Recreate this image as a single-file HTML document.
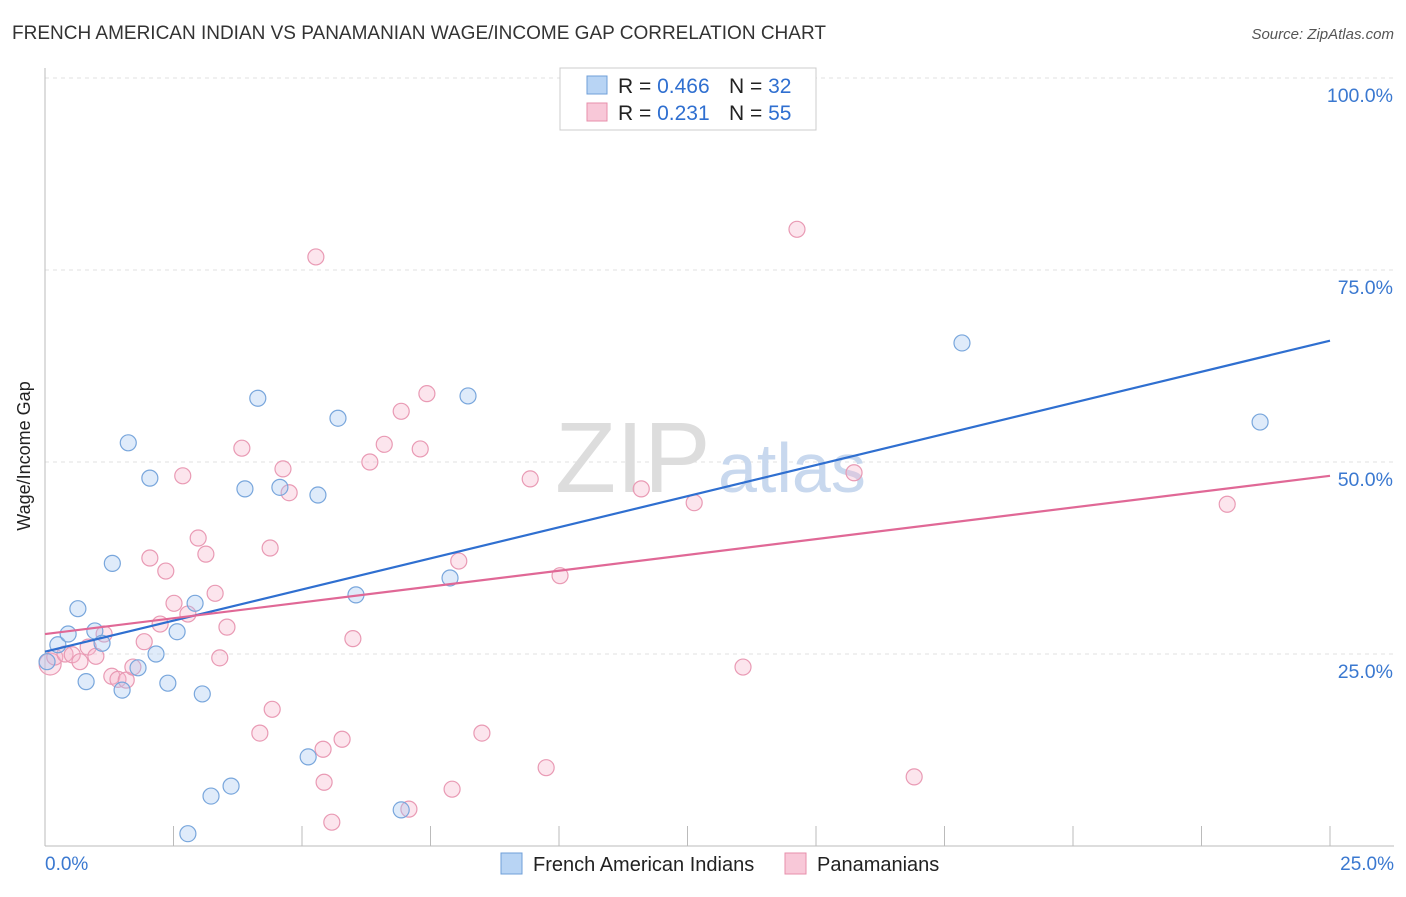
<!DOCTYPE html>
<html><head><meta charset="utf-8">
<style>
body{margin:0;background:#fff;font-family:"Liberation Sans",sans-serif;}
svg text{font-family:"Liberation Sans",sans-serif;}
</style></head>
<body>
<svg id="chart" width="1406" height="892" viewBox="0 0 1406 892" xmlns="http://www.w3.org/2000/svg">
<text x="12" y="39" font-size="19" fill="#333">FRENCH AMERICAN INDIAN VS PANAMANIAN WAGE/INCOME GAP CORRELATION CHART</text>
<text x="1394" y="39" font-size="15" fill="#555" font-style="italic" text-anchor="end">Source: ZipAtlas.com</text>
<g id="grid"></g>
<g id="axes"></g>
<text x="555" y="492" font-size="100" fill="#ddd" font-family="Liberation Serif">ZIP</text>
<text x="718" y="492" font-size="70" fill="#c8d8ee">atlas</text>
<g id="points"></g>
<g id="lines"></g>
<text x="30" y="456" font-size="18" fill="#222" text-anchor="middle" transform="rotate(-90 30 456)">Wage/Income Gap</text>
<g>
<rect x="560" y="68" width="256" height="62" fill="#fff" stroke="#ccc"/>
<rect x="587" y="76" width="20" height="18" fill="#b8d4f4" stroke="#6f9fd8"/>
<text x="618" y="93" font-size="21" fill="#222">R = <tspan fill="#2f6fd0">0.466</tspan></text>
<text x="729" y="93" font-size="21" fill="#222">N = <tspan fill="#2f6fd0">32</tspan></text>
<rect x="587" y="103" width="20" height="18" fill="#f8c8d8" stroke="#e78fab"/>
<text x="618" y="120" font-size="21" fill="#222">R = <tspan fill="#2f6fd0"> 0.231</tspan></text>
<text x="729" y="120" font-size="21" fill="#222">N = <tspan fill="#2f6fd0">55</tspan></text>
</g>
<g>
<rect x="501" y="853" width="21" height="21" fill="#b8d4f4" stroke="#6f9fd8"/>
<text x="533" y="871" font-size="20" fill="#222">French American Indians</text>
<rect x="785" y="853" width="21" height="21" fill="#f8c8d8" stroke="#e78fab"/>
<text x="817" y="871" font-size="20" fill="#222">Panamanians</text>
</g>
</svg>
<script>
const blueX=[0.04,0.25,0.45,0.64,0.80,0.97,1.11,1.31,1.50,1.62,1.81,2.04,2.16,2.39,2.57,2.92,3.06,3.23,3.62,2.78,3.89,4.14,4.57,5.31,5.12,5.70,6.05,6.93,7.88,8.23,17.84,23.64];
const blueY=[24.0,26.2,27.6,30.9,21.4,28.0,26.4,36.8,20.3,52.5,23.2,47.9,25.0,21.2,27.9,31.6,19.8,6.5,7.8,1.6,46.5,58.3,46.7,45.7,11.6,55.7,32.7,4.7,34.9,58.6,65.5,55.2];
const pinkX=[0.10,0.19,0.39,0.53,0.68,0.84,0.99,1.15,1.30,1.42,1.58,1.71,1.93,2.04,2.24,2.35,2.51,2.68,2.78,2.98,3.13,3.31,3.40,3.54,3.83,4.18,4.38,4.42,4.63,4.75,5.27,5.41,5.43,5.58,5.78,5.99,6.32,6.60,6.93,7.08,7.30,7.43,7.92,8.05,8.50,9.44,9.75,10.02,11.60,12.63,13.58,14.63,15.74,16.91,23.00];
const pinkY=[23.7,24.6,25.0,24.9,24.0,25.9,24.7,27.6,22.1,21.7,21.6,23.3,26.6,37.5,28.9,35.8,31.6,48.2,30.2,40.1,38.0,32.9,24.5,28.5,51.8,14.7,38.8,17.8,49.1,46.0,76.7,12.6,8.3,3.1,13.9,27.0,50.0,52.3,56.6,4.8,51.7,58.9,7.4,37.1,14.7,47.8,10.2,35.2,46.5,44.7,23.3,80.3,48.6,9.0,44.5];
const blueTrend=[25.3,65.8];
const pinkTrend=[27.6,48.2];
const yTicks=[25,50,75,100];
const yTickLabels=["25.0%","50.0%","75.0%","100.0%"];
const xTickCount=10;

const NS="http://www.w3.org/2000/svg";
const sx=v=>45+v/25*1285;
const sy=v=>846-v/100*768;
function mk(tag,attrs,parent){const e=document.createElementNS(NS,tag);for(const k in attrs)e.setAttribute(k,attrs[k]);parent.appendChild(e);return e;}
const grid=document.getElementById('grid'),axes=document.getElementById('axes'),pts=document.getElementById('points'),lines=document.getElementById('lines');
yTicks.forEach((t,i)=>{
  const l=mk('line',{x1:45,x2:1394,y1:sy(t),y2:sy(t),stroke:'#e2e2e2','stroke-dasharray':'4,4'},grid);
  
  
  const tx=mk('text',{x:1393,y:sy(t)+24,'font-size':19.5,fill:'#3a78d0','text-anchor':'end'},axes);
  tx.textContent=yTickLabels[i];
  
  
});
const ax=mk('line',{x1:45,x2:45,y1:68,y2:846,stroke:'#bbb'},axes);


const bx=mk('line',{x1:45,x2:1394,y1:846,y2:846,stroke:'#bbb'},axes);


for(let i=1;i<=xTickCount;i++){
  const x=sx(25*i/xTickCount);
  const t=mk('line',{x1:x,x2:x,y1:826,y2:846,stroke:'#bbb'},axes);
  
  
}
const xl0=mk('text',{x:45,y:870,'font-size':19,fill:'#3a78d0'},axes);xl0.textContent='0.0%';


const xl1=mk('text',{x:1394,y:870,'font-size':19,fill:'#3a78d0','text-anchor':'end'},axes);xl1.textContent='25.0%';



pinkX.forEach((v,i)=>{
  const c=mk('circle',{cx:sx(v),cy:sy(pinkY[i]),r:i==0?11:8,fill:'rgba(246,180,204,0.35)',stroke:'#e99ab4','stroke-width':1.2},pts);
  
  
});
blueX.forEach((v,i)=>{
  const c=mk('circle',{cx:sx(v),cy:sy(blueY[i]),r:8,fill:'rgba(164,198,240,0.35)',stroke:'#78a6dc','stroke-width':1.2},pts);
  
  
});
const bl=mk('line',{x1:sx(0),y1:sy(blueTrend[0]),x2:sx(25),y2:sy(blueTrend[1]),stroke:'#2f6fd0','stroke-width':2.2},lines);


const pl=mk('line',{x1:sx(0),y1:sy(pinkTrend[0]),x2:sx(25),y2:sy(pinkTrend[1]),stroke:'#e06896','stroke-width':2.2},lines);


</script>
</body></html>
